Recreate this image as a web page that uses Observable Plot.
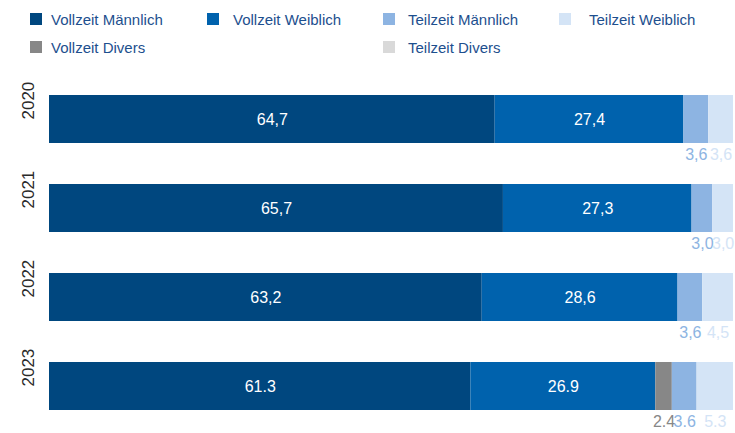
<!DOCTYPE html>
<html>
<head>
<meta charset="utf-8">
<script src="https://cdn.jsdelivr.net/npm/d3@7"></script>
<script src="https://cdn.jsdelivr.net/npm/@observablehq/plot@0.6"></script>
<style>
  html, body { margin: 0; padding: 0; background: #fff; }
  body { width: 735px; height: 433px; overflow: hidden; font-family: "Liberation Sans", Arial, sans-serif; }
  #legend { position: relative; width: 735px; height: 70px; }
  .item { position: absolute; font-size: 15px; color: #1d4f8e; line-height: 15px; white-space: nowrap; }
  .sw { position: absolute; width: 12px; height: 12px; }
  #chart svg { display: block; }
</style>
</head>
<body>
<div id="legend"></div>
<div id="chart"></div>
<script>
// ---- data ----
const years = ["2020", "2021", "2022", "2023"];
const categories = ["Vollzeit Männlich", "Vollzeit Weiblich", "Vollzeit Divers", "Teilzeit Männlich", "Teilzeit Weiblich", "Teilzeit Divers"];
const vollzeitMaennlich = [64.7, 65.7, 63.2, 61.3];
const vollzeitWeiblich  = [27.4, 27.3, 28.6, 26.9];
const vollzeitDivers    = [0, 0, 0, 2.4];
const teilzeitMaennlich = [3.6, 3.0, 3.6, 3.6];
const teilzeitWeiblich  = [3.6, 3.0, 4.5, 5.3];
const teilzeitDivers    = [0, 0, 0, 0];
const decimalSeparators = [",", ",", ",", "."];
const colors = ["#00477f", "#0062ad", "#878787", "#8db4e2", "#d4e4f6", "#d9d9d9"];
const insideCategories = ["Vollzeit Männlich", "Vollzeit Weiblich"];

// legend layout (as in the reference)
const legendItems = [
  {cat: "Vollzeit Männlich", sx: 30, tx: 51, y: 13},
  {cat: "Vollzeit Weiblich", sx: 207, tx: 233, y: 13},
  {cat: "Teilzeit Männlich", sx: 383, tx: 408, y: 13},
  {cat: "Teilzeit Weiblich", sx: 559, tx: 589, y: 13},
  {cat: "Vollzeit Divers", sx: 30, tx: 51, y: 41},
  {cat: "Teilzeit Divers", sx: 383, tx: 408, y: 41}
];

const series = [vollzeitMaennlich, vollzeitWeiblich, vollzeitDivers, teilzeitMaennlich, teilzeitWeiblich, teilzeitDivers];
const table = [];
years.forEach((year, i) => {
  categories.forEach((cat, j) => {
    const v = series[j][i];
    const lbl = v.toFixed(1).replace(".", decimalSeparators[i]);
    const isInside = insideCategories.includes(cat);
    table.push({year, cat, value: v,
      inLabel: isInside && v > 0 ? lbl : null,
      outLabel: !isInside && v > 0 ? lbl : null});
  });
});

const color = d3.scaleOrdinal(categories, colors);

// legend
const legend = document.getElementById("legend");
legendItems.forEach(it => {
  const sw = document.createElement("div");
  sw.className = "sw";
  sw.style.left = it.sx + "px";
  sw.style.top = it.y + "px";
  sw.style.background = color(it.cat);
  legend.appendChild(sw);
  const t = document.createElement("div");
  t.className = "item";
  t.style.left = it.tx + "px";
  t.style.top = (it.y - 1) + "px";
  t.textContent = it.cat;
  legend.appendChild(t);
});

const stackOpts = {x: "value", y: "year", z: "cat", order: categories, offset: "normalize"};

const chart = Plot.plot({
  width: 735,
  height: 363,
  marginLeft: 49,
  marginRight: 2,
  marginTop: 25,
  marginBottom: 23,
  x: {axis: null, domain: [0, 1]},
  y: {axis: null, domain: years, range: [25, 340], paddingInner: 0.4607, paddingOuter: 0},
  color: {domain: categories, range: colors},
  style: {fontFamily: "'Liberation Sans', Arial, sans-serif"},
  marks: [
    Plot.barX(table, Plot.stackX({...stackOpts, fill: "cat"})),
    Plot.text(table, Plot.stackX({...stackOpts, text: "inLabel", fill: "#fff", fontSize: 16})),
    Plot.text(table, Plot.stackX({...stackOpts, text: "outLabel", fill: "cat", fontSize: 16, dy: 35})),
    Plot.text(years, {y: d => d, text: d => d, frameAnchor: "left", dx: -21, rotate: -90, fontSize: 17, fill: "#2a2a2a"})
  ]
});
document.getElementById("chart").appendChild(chart);
</script>
</body>
</html>
